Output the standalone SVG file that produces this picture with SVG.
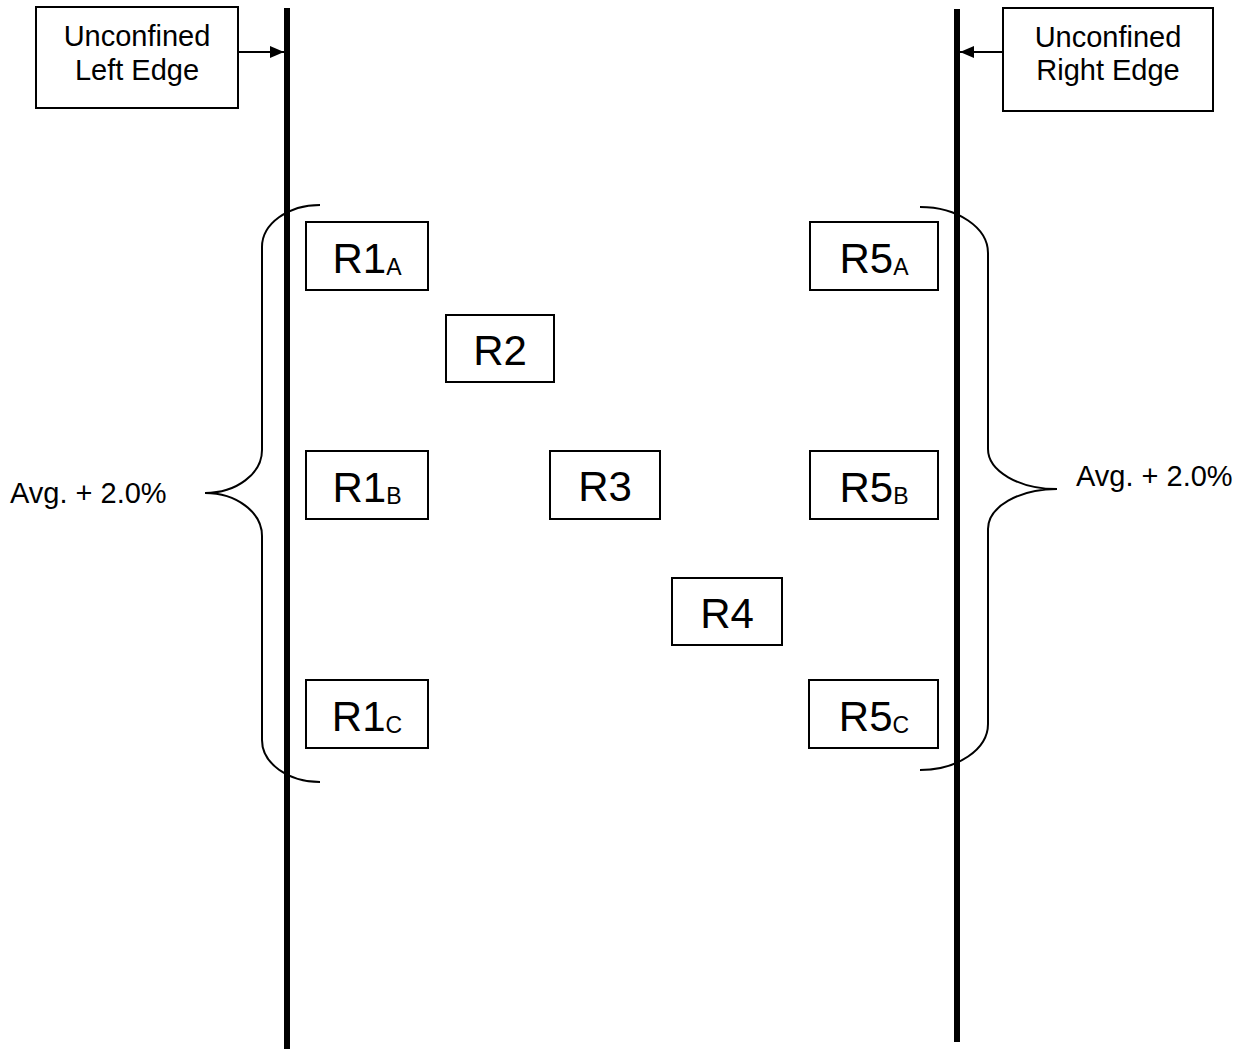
<svg xmlns="http://www.w3.org/2000/svg" width="1254" height="1049" viewBox="0 0 1254 1049">
<defs>
<style>
.box{fill:#fff;stroke:#000;stroke-width:2}
.t{font-family:"Liberation Sans",Arial,sans-serif;fill:#000}
.big{font-size:42px}
.lbl{font-size:29px}
.sub{font-size:23px}
.edge{stroke:#000;stroke-width:6}
.brace{fill:none;stroke:#000;stroke-width:2}
.arr{stroke:#000;stroke-width:2;fill:none}
</style>
<marker id="ah" viewBox="0 0 14 12" refX="14" refY="6" markerWidth="14" markerHeight="12" markerUnits="userSpaceOnUse" orient="auto">
<path d="M0,0 L14,6 L0,12 Z" fill="#000"/>
</marker>
</defs>
<rect width="1254" height="1049" fill="#fff"/>
<g id="edges">
<line class="edge" x1="287" y1="8" x2="287" y2="1049"/>
<line class="edge" x1="957" y1="9" x2="957" y2="1042"/>
</g>
<g id="connectors">
<line class="arr" x1="238" y1="52" x2="284" y2="52" marker-end="url(#ah)"/>
<line class="arr" x1="1003" y1="52" x2="960" y2="52" marker-end="url(#ah)"/>
<path class="brace" d="M320,205 A58,42 0 0 0 262,247 L262,450 A57,43 0 0 1 205,493 A57,43 0 0 1 262,536 L262,740 A58,42 0 0 0 320,782"/>
<path class="brace" d="M920,207 A68,46 0 0 1 988,253 L988,449 A69,40 0 0 0 1057,489 A69,40 0 0 0 988,529 L988,724 A68,46 0 0 1 920,770"/>
</g>
<g id="left-edge-label">
<rect class="box" x="36" y="7" width="202" height="101"/>
<text class="t lbl" x="137" y="46" text-anchor="middle">Unconfined</text>
<text class="t lbl" x="137" y="80" text-anchor="middle">Left Edge</text>
</g>
<g id="right-edge-label">
<rect class="box" x="1003" y="8" width="210" height="103"/>
<text class="t lbl" x="1108" y="47" text-anchor="middle">Unconfined</text>
<text class="t lbl" x="1108" y="80" text-anchor="middle">Right Edge</text>
</g>
<g id="avg-left"><text class="t lbl" x="10" y="503">Avg. + 2.0%</text></g>
<g id="avg-right"><text class="t lbl" x="1076" y="486">Avg. + 2.0%</text></g>
<g id="R1A">
<rect class="box" x="306" y="222" width="122" height="68"/>
<text class="t big" x="367" y="273" text-anchor="middle">R1<tspan class="sub" dy="2">A</tspan></text>
</g>
<g id="R2">
<rect class="box" x="446" y="315" width="108" height="67"/>
<text class="t big" x="500" y="365" text-anchor="middle">R2</text>
</g>
<g id="R1B">
<rect class="box" x="306" y="451" width="122" height="68"/>
<text class="t big" x="367" y="502" text-anchor="middle">R1<tspan class="sub" dy="2">B</tspan></text>
</g>
<g id="R3">
<rect class="box" x="550" y="451" width="110" height="68"/>
<text class="t big" x="605" y="501" text-anchor="middle">R3</text>
</g>
<g id="R4">
<rect class="box" x="672" y="578" width="110" height="67"/>
<text class="t big" x="727" y="628" text-anchor="middle">R4</text>
</g>
<g id="R1C">
<rect class="box" x="306" y="680" width="122" height="68"/>
<text class="t big" x="367" y="731" text-anchor="middle">R1<tspan class="sub" dy="2">C</tspan></text>
</g>
<g id="R5A">
<rect class="box" x="810" y="222" width="128" height="68"/>
<text class="t big" x="874" y="273" text-anchor="middle">R5<tspan class="sub" dy="2">A</tspan></text>
</g>
<g id="R5B">
<rect class="box" x="810" y="451" width="128" height="68"/>
<text class="t big" x="874" y="502" text-anchor="middle">R5<tspan class="sub" dy="2">B</tspan></text>
</g>
<g id="R5C">
<rect class="box" x="809" y="680" width="129" height="68"/>
<text class="t big" x="874" y="731" text-anchor="middle">R5<tspan class="sub" dy="2">C</tspan></text>
</g>
</svg>
